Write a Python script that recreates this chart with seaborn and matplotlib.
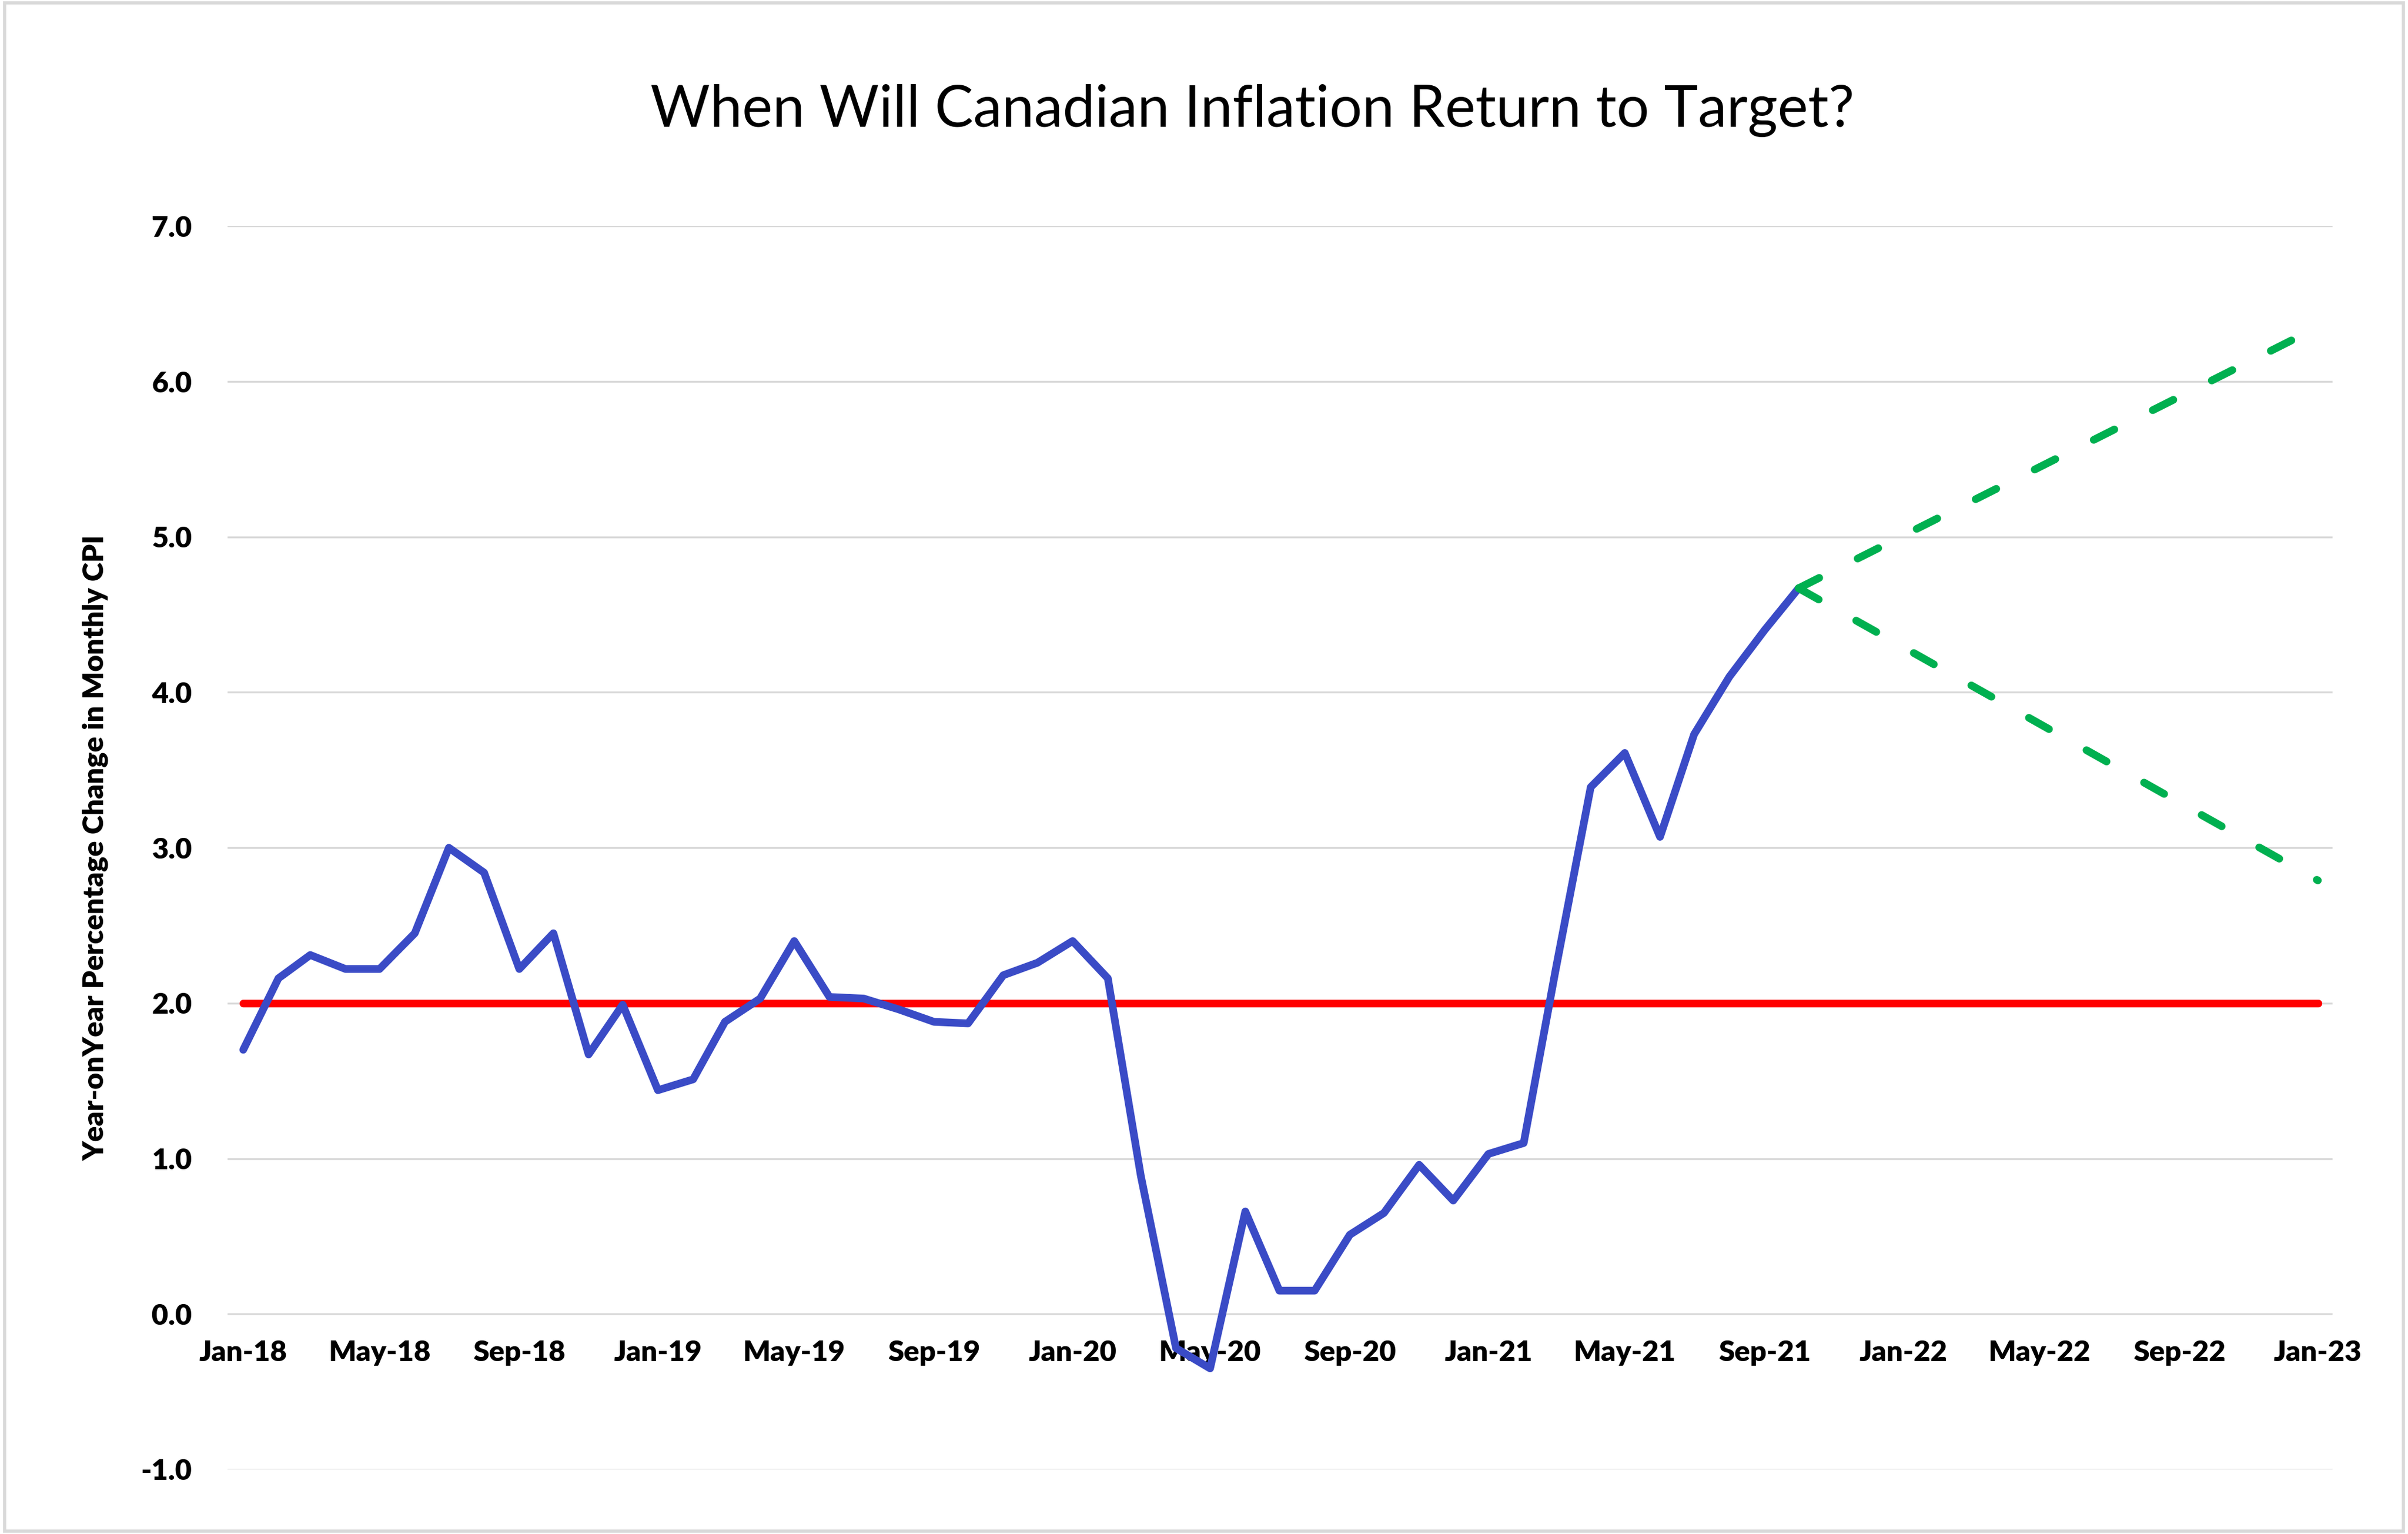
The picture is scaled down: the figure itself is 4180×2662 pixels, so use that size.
import matplotlib
matplotlib.use("Agg")
import matplotlib.dates as mdates
import pandas as pd
import seaborn as sns
from matplotlib import pyplot as plt
from matplotlib.patches import Rectangle

####################################
# data
####################################
cpi_start = "2018-01-01"
cpi_values = [
    1.70, 2.16, 2.31, 2.22, 2.22, 2.45, 3.00, 2.84, 2.22, 2.45, 1.67, 1.99,  # 2018
    1.44, 1.51, 1.88, 2.03, 2.40, 2.04, 2.03, 1.96, 1.88, 1.87, 2.18, 2.26,  # 2019
    2.40, 2.16, 0.89, -0.22, -0.35, 0.66, 0.15, 0.15, 0.51, 0.65, 0.96, 0.73,  # 2020
    1.03, 1.10, 2.21, 3.39, 3.61, 3.07, 3.73, 4.10, 4.40, 4.67,  # 2021
]
target_dates = ["2018-01-01", "2023-01-01"]
target_values = [2.0, 2.0]
proj_dates = ["2021-10-01", "2023-01-01"]
proj_high = [4.67, 6.35]
proj_low = [4.67, 2.79]

title = "When Will Canadian Inflation Return to Target?"
ylabel = "Year-onYear Percentage Change in Monthly CPI"

####################################
# prep
####################################
df_cpi = pd.DataFrame(
    {"date": pd.date_range(cpi_start, periods=len(cpi_values), freq="MS"), "cpi": cpi_values}
)
df_target = pd.DataFrame({"date": pd.to_datetime(target_dates), "cpi": target_values})
df_high = pd.DataFrame({"date": pd.to_datetime(proj_dates), "cpi": proj_high})
df_low = pd.DataFrame({"date": pd.to_datetime(proj_dates), "cpi": proj_low})

####################################
# visualize
####################################
sns.set_style("white")
plt.rcParams["font.family"] = ["Lato", "DejaVu Sans"]
plt.rcParams["text.color"] = "black"

fig = plt.figure(figsize=(20.9, 13.31), dpi=200)
ax = fig.add_axes([0.0944, 0.0421, 0.8743, 0.8105])

lw = 4.8
sns.lineplot(data=df_target, x="date", y="cpi", color="#FF0000", linewidth=lw,
             solid_capstyle="round", ax=ax, zorder=3)
sns.lineplot(data=df_cpi, x="date", y="cpi", color="#3A4BC6", linewidth=lw,
             solid_capstyle="round", solid_joinstyle="round", ax=ax, zorder=4)
for d in (df_high, df_low):
    sns.lineplot(data=d, x="date", y="cpi", color="#00B050", linewidth=lw,
                 dashes=False, ax=ax, zorder=4)
    ax.lines[-1].set_linestyle((0, (3.0, 5.6)))
    ax.lines[-1].set_dash_capstyle("round")

ax.set_ylim(-1, 7)
ax.set_yticks(range(-1, 8))
ax.yaxis.set_major_formatter(matplotlib.ticker.FormatStrFormatter("%.1f"))
ax.set_xlim(pd.Timestamp("2017-12-18"), pd.Timestamp("2023-01-14"))
ax.xaxis.set_major_locator(mdates.MonthLocator(bymonth=[1, 5, 9]))
ax.xaxis.set_major_formatter(mdates.DateFormatter("%b-%y"))

ax.grid(axis="y", color="#D9D9D9", linewidth=1.2)
ax.grid(axis="x", visible=False)
for s in ["top", "right", "left"]:
    ax.spines[s].set_visible(False)
ax.spines["bottom"].set_position(("data", 0))
ax.spines["bottom"].set_visible(False)
ax.tick_params(axis="both", length=0, labelsize=18, labelcolor="black")
ax.tick_params(axis="x", pad=16)
ax.tick_params(axis="y", pad=22)
for lab in ax.get_xticklabels() + ax.get_yticklabels():
    lab.set_fontweight("heavy")

ax.set_xlabel("")
ax.set_ylabel(ylabel, fontsize=18, fontweight="heavy", labelpad=20, color="black")
fig.suptitle(title, fontsize=36, x=0.52, y=0.945, color="black")

fig.patches.append(Rectangle((0.002, 0.002), 0.996, 0.996, transform=fig.transFigure,
                             fill=False, edgecolor="#D9D9D9", linewidth=2))

fig.savefig("out.png", dpi=200)
